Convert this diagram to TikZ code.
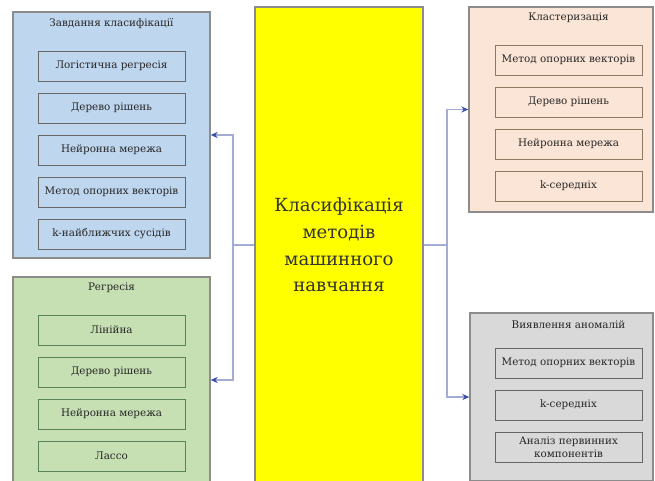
\documentclass[tikz,border=0pt]{standalone}
\usepackage{fontspec}
\setmainfont{DejaVu Serif}
\usepackage{xcolor}
\usepackage{tikz}
\usetikzlibrary{shapes,backgrounds,calc,arrows.meta}

\definecolor{blueback}{RGB}{190,214,238}
\definecolor{greenback}{RGB}{198,224,180}
\definecolor{peachback}{RGB}{251,229,214}
\definecolor{greyback}{RGB}{217,217,217}
\definecolor{linkline}{RGB}{165,172,212}
\definecolor{linktip}{RGB}{60,80,165}
\definecolor{centreback}{RGB}{255,255,0}

\begin{document}
\begin{tikzpicture}[x=0.02cm,y=-0.02cm]
        % Define the styles for the group boxes, method boxes and links
        \tikzstyle{group}=[draw=black!45, line width=0.8pt, inner sep=0pt];
        \tikzstyle{method}=[draw=black!60, line width=0.55pt, minimum width=2.94cm, minimum height=0.6cm, inner xsep=1pt, align=center, font=\rmfamily\fontsize{5.9}{7.2}\selectfont, text=black!85];
        \tikzstyle{caption}=[font=\rmfamily\fontsize{5.9}{7.5}\selectfont, text=black!85];
        \tikzstyle{link}=[draw=linkline, line width=0.6pt, -{Stealth[length=4pt,width=3.5pt,color=linktip]}];
        
        % Fix the size of the picture
        \clip (0,0) rectangle (655,480);
        \fill[white] (0,0) rectangle (655,480);
        
        % Central box
        \node[group, fill=centreback, minimum width=3.36cm, minimum height=9.52cm] (ml) at (339,245) {};
        \node[align=center, font=\rmfamily\fontsize{10.3}{15.2}\selectfont, text=black!80] at (ml.center) {Класифікація\\методів\\машинного\\навчання};
        
        % Classification tasks (left, top)
        \node[group, fill=blueback, minimum width=3.94cm, minimum height=4.92cm] (clf) at (111.5,135) {};
        \node[caption] at (111.5,24) {Завдання класифікації};
        \node[method] (clf1) at (111.5,66) {Логістична регресія};
        \node[method] (clf2) at (111.5,108) {Дерево рішень};
        \node[method] (clf3) at (111.5,150) {Нейронна мережа};
        \node[method] (clf4) at (111.5,192) {Метод опорних векторів};
        \node[method] (clf5) at (111.5,234) {k-найближчих сусідів};
        
        % Regression (left, bottom)
        \node[group, fill=greenback, minimum width=3.94cm, minimum height=4.12cm] (reg) at (111.5,380) {};
        \node[caption] at (111.5,288) {Регресія};
        \node[method, draw=green!25!black!65] (reg1) at (111.5,330) {Лінійна};
        \node[method, draw=green!25!black!65] (reg2) at (111.5,372) {Дерево рішень};
        \node[method, draw=green!25!black!65] (reg3) at (111.5,414) {Нейронна мережа};
        \node[method, draw=green!25!black!65] (reg4) at (111.5,456) {Лассо};
        
        % Clustering (right, top)
        \node[group, fill=peachback, minimum width=3.68cm, minimum height=4.1cm] (clu) at (561,109.5) {};
        \node[caption] at (568.5,18) {Кластеризація};
        \node[method, draw=brown!50!black!70] (clu1) at (568.5,60) {Метод опорних векторів};
        \node[method, draw=brown!50!black!70] (clu2) at (568.5,102) {Дерево рішень};
        \node[method, draw=brown!50!black!70] (clu3) at (568.5,144) {Нейронна мережа};
        \node[method, draw=brown!50!black!70] (clu4) at (568.5,186) {k-середніх};
        
        % Anomaly detection (right, bottom)
        \node[group, fill=greyback, minimum width=3.66cm, minimum height=3.36cm] (ano) at (561.5,397) {};
        \node[caption] at (568.5,325) {Виявлення аномалій};
        \node[method] (ano1) at (568.5,363) {Метод опорних векторів};
        \node[method] (ano2) at (568.5,405) {k-середніх};
        \node[method, inner ysep=1.5pt] (ano3) at (568.5,447) {Аналіз первинних\\компонентів};
        
        % Branch points of the links
        \coordinate (lsplit) at (233,245);
        \coordinate (rsplit) at (447,245);
        
        % Links from the central box to the groups
        \draw[linkline, line width=0.6pt] (ml.west) -- (lsplit);
        \draw[linkline, line width=0.6pt] (ml.east) -- (rsplit);
        \draw[link] (lsplit) |- (clf.east);
        \draw[link] (lsplit) |- (reg.east);
        \draw[link] (rsplit) |- (clu.west);
        \draw[link] (rsplit) |- (ano.west);
    \end{tikzpicture}
\end{document}
